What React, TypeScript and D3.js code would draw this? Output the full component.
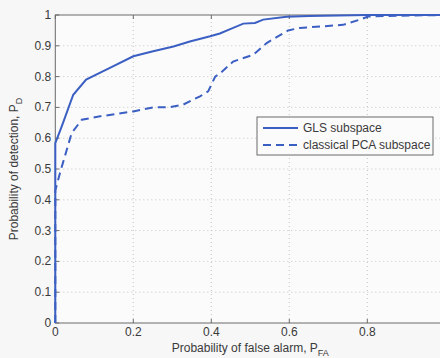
import { useEffect, useRef } from 'react';
import * as d3 from 'd3';

// ROC curves
const glsPfa = [0, 0, 0.017, 0.046, 0.079, 0.14, 0.2, 0.251, 0.303, 0.345, 0.397, 0.422, 0.45, 0.482, 0.512, 0.533, 0.593, 0.65, 0.8, 1.0];
const glsPd = [0, 0.584, 0.64, 0.741, 0.79, 0.828, 0.866, 0.882, 0.898, 0.914, 0.931, 0.94, 0.955, 0.972, 0.974, 0.985, 0.994, 0.997, 1.0, 1.0];

const pcaPfa = [0, 0, 0.012, 0.042, 0.068, 0.115, 0.2, 0.251, 0.294, 0.328, 0.371, 0.392, 0.41, 0.422, 0.456, 0.508, 0.542, 0.597, 0.627, 0.738, 0.781, 0.802, 0.85, 1.0];
const pcaPd = [0, 0.43, 0.487, 0.617, 0.66, 0.671, 0.687, 0.7, 0.701, 0.709, 0.736, 0.752, 0.8, 0.81, 0.849, 0.871, 0.909, 0.95, 0.958, 0.968, 0.985, 0.995, 0.997, 1.0];

const xTicks = [0, 0.2, 0.4, 0.6, 0.8, 1];
const yTicks = [0, 0.1, 0.2, 0.3, 0.4, 0.5, 0.6, 0.7, 0.8, 0.9, 1];

const seriesNames = ['GLS subspace', 'classical PCA subspace'];

const App = () => {
  const ref = useRef<SVGSVGElement>(null);

  useEffect(() => {
    if (!ref.current) return;
    const svg = d3.select(ref.current);
    svg.selectAll('*').remove();

    const W = 440;
    const H = 358;
    const margin = { top: 15, left: 55.3, bottom: 35 };
    const plotW = 390; // axes run past the right edge of the figure (cropped)
    const font = 'Liberation Sans, Arial, sans-serif';
    const blue = '#3b5fc2';
    const axisColor = '#6a6a6a';
    const textColor = '#3a3a3a';

    svg.append('rect').attr('width', W).attr('height', H).attr('fill', '#f7f7f7');

    const x = d3.scaleLinear().domain([0, 1]).range([margin.left, margin.left + plotW]);
    const y = d3.scaleLinear().domain([0, 1]).range([H - margin.bottom, margin.top]);

    // plot background
    svg.append('rect')
      .attr('x', x(0)).attr('y', y(1))
      .attr('width', x(1) - x(0)).attr('height', y(0) - y(1))
      .attr('fill', '#fbfbfb');

    // grid
    const grid = svg.append('g');
    grid.selectAll('.gx')
      .data(xTicks.slice(1, -1))
      .enter().append('line')
      .attr('x1', d => x(d)).attr('x2', d => x(d))
      .attr('y1', y(0)).attr('y2', y(1))
      .attr('stroke', '#c4c4c4').attr('stroke-width', 1)
      .attr('stroke-dasharray', '1,3');
    grid.selectAll('.gy')
      .data(yTicks.slice(1, -1))
      .enter().append('line')
      .attr('x1', x(0)).attr('x2', x(1))
      .attr('y1', d => y(d)).attr('y2', d => y(d))
      .attr('stroke', '#c4c4c4').attr('stroke-width', 1)
      .attr('stroke-dasharray', '1,3');

    // axes box
    const box = svg.append('g').attr('stroke', axisColor).attr('stroke-width', 1).attr('fill', 'none');
    box.append('rect')
      .attr('x', x(0)).attr('y', y(1))
      .attr('width', x(1) - x(0)).attr('height', y(0) - y(1));

    // tick marks
    xTicks.forEach(t => {
      box.append('line').attr('x1', x(t)).attr('x2', x(t)).attr('y1', y(0)).attr('y2', y(0) - 4);
      box.append('line').attr('x1', x(t)).attr('x2', x(t)).attr('y1', y(1)).attr('y2', y(1) + 4);
    });
    yTicks.forEach(t => {
      box.append('line').attr('x1', x(0)).attr('x2', x(0) + 4).attr('y1', y(t)).attr('y2', y(t));
    });

    // tick labels (the "1" on x falls outside the cropped figure)
    svg.selectAll('.xt')
      .data(xTicks.filter(t => x(t) < W - 8))
      .enter().append('text')
      .attr('x', d => x(d)).attr('y', y(0) + 13)
      .attr('text-anchor', 'middle')
      .style('font-family', font).style('font-size', '12px').style('fill', textColor)
      .text(d => d3.format('')(d));
    svg.selectAll('.yt')
      .data(yTicks)
      .enter().append('text')
      .attr('x', x(0) - 4).attr('y', d => y(d) + 4)
      .attr('text-anchor', 'end')
      .style('font-family', font).style('font-size', '12px').style('fill', textColor)
      .text(d => d3.format('')(d));

    // axis labels
    const xl = svg.append('text')
      .attr('x', (x(0) + x(1)) / 2).attr('y', 352)
      .attr('text-anchor', 'middle')
      .style('font-family', font).style('font-size', '12px').style('fill', textColor);
    xl.append('tspan').text('Probability of false alarm, P');
    xl.append('tspan').attr('dy', 4).style('font-size', '9px').text('FA');

    const yl = svg.append('text')
      .attr('transform', `translate(17.5,${(y(0) + y(1)) / 2}) rotate(-90)`)
      .attr('text-anchor', 'middle')
      .style('font-family', font).style('font-size', '12px').style('fill', textColor);
    yl.append('tspan').text('Probability of detection, P');
    yl.append('tspan').attr('dy', 4).style('font-size', '9px').text('D');

    // curves
    const line = d3.line<[number, number]>().x(d => x(d[0])).y(d => y(d[1]));
    const gls = glsPfa.map((v, i) => [v, glsPd[i]] as [number, number]);
    const pca = pcaPfa.map((v, i) => [v, pcaPd[i]] as [number, number]);

    svg.append('path')
      .attr('d', line(pca))
      .attr('fill', 'none').attr('stroke', blue).attr('stroke-width', 2)
      .attr('stroke-dasharray', '8,5');
    svg.append('path')
      .attr('d', line(gls))
      .attr('fill', 'none').attr('stroke', blue).attr('stroke-width', 2);

    // legend
    const legend = svg.append('g').attr('transform', 'translate(257,117)');
    legend.append('rect')
      .attr('width', 176).attr('height', 38)
      .attr('fill', '#fbfbfb').attr('stroke', axisColor).attr('stroke-width', 1);
    seriesNames.forEach((name, i) => {
      const ly = 11 + i * 17;
      legend.append('line')
        .attr('x1', 6).attr('x2', 41).attr('y1', ly).attr('y2', ly)
        .attr('stroke', blue).attr('stroke-width', 2)
        .attr('stroke-dasharray', i === 1 ? '8,5' : null);
      legend.append('text')
        .attr('x', 46).attr('y', ly + 4)
        .style('font-family', font).style('font-size', '12px').style('fill', textColor)
        .text(name);
    });
  }, []);

  return (
    <svg
      ref={ref}
      width={440}
      height={358}
      style={{ position: 'absolute', left: 0, top: 0, display: 'block' }}
    />
  );
};

export default App;
